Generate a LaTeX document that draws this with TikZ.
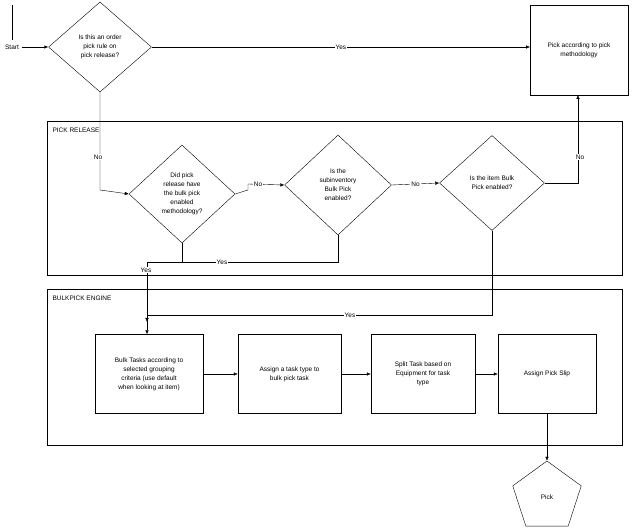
\documentclass[tikz,border=0pt]{standalone}
\usepackage{fontspec}
\setmainfont{Liberation Sans}
\usetikzlibrary{shapes.geometric,arrows.meta}
\begin{document}
\begin{tikzpicture}[x=1pt,y=-1pt,
  every node/.style={font=\fontsize{6.5}{9}\selectfont},
  dia/.style={draw,diamond,inner sep=0pt,align=center},
  box/.style={draw,rectangle,align=center,inner sep=2pt},
  cont/.style={draw},
  arr/.style={-{Latex[length=4pt,width=3.5pt]}},
  lbl/.style={fill=white,inner sep=1pt}]
\useasboundingbox (0,0) rectangle (633,532);
\draw[cont] (47,121) rectangle (622,275);
\node[anchor=west] (prl) at (49,130) {PICK RELEASE};
\draw[cont] (47,289) rectangle (622,445);
\node[anchor=west] (bpe) at (49,298) {BULKPICK ENGINE};

\coordinate (st) at (12,5);
\node (start) at (12,47) {Start};
\draw (st) -- (12,40);
\node[dia,minimum width=103pt,minimum height=90pt] (d1) at (100,47) {Is this an order\\pick rule on\\pick release?};
\node[box,minimum width=98pt,minimum height=90pt,anchor=north west] (pbox) at (530,5) {};
\node[align=center] (ptxt) at (579,50) {Pick according to pick\\methodology};
\node[dia,minimum width=106pt,minimum height=98pt] (d2) at (182,194) {Did pick\\release have\\the bulk pick\\enabled\\methodology?};
\node[dia,minimum width=107pt,minimum height=100pt] (d3) at (338,185) {Is the\\subinventory\\Bulk Pick\\enabled?};
\node[dia,minimum width=105pt,minimum height=95pt] (d4) at (492,183) {Is the item Bulk\\Pick enabled?};

\node[box,minimum width=108pt,minimum height=79pt] (b1) at (149,374) {Bulk Tasks according to\\selected grouping\\criteria (use default\\when looking at item)};
\node[box,minimum width=103pt,minimum height=79pt] (b2) at (289.5,374) {Assign a task type to\\bulk pick task};
\node[box,minimum width=104pt,minimum height=79pt] (b3) at (423,374) {Split Task based on\\Equipment for task\\type};
\node[box,minimum width=98pt,minimum height=79pt] (b4) at (547,374) {Assign Pick Slip};
\node[draw,regular polygon,regular polygon sides=5,minimum size=72pt,inner sep=0pt] (pick) at (547,497) {Pick};

\draw[arr] (start.east) -- (d1.west);
\draw[arr] (d1.east) -- node[lbl]{Yes} (pbox.west |- d1.east);
\draw[arr] (d1.south) -- (100,190) -- (d2.west);
\node[lbl] (no1) at (98,157) {No};
\draw[arr] (d2.east) -- (248,190) -- (248,184) -- (d3.west);
\node[lbl] (no2) at (258,184) {No};
\draw[arr] (d3.east) -- node[lbl]{No} (d4.west);
\draw[arr] (d4.east) -- (578,183) -- (578,95);
\node[lbl] (no4) at (580,157) {No};
\draw (d3.south) -- (338,262) -- (147,262);
\node[lbl] (y3) at (222,262) {Yes};
\draw (d2.south) -- (182,262);
\draw[arr] (d4.south) -- (492,315) -- (147,315) -- (b1.north -| 147,0);
\draw[arr] (147,262) -- (147,322);
\node[lbl] (y2) at (146,270) {Yes};
\node[lbl] (y4) at (350,315) {Yes};
\draw[arr] (b1) -- (b2);
\draw[arr] (b2) -- (b3);
\draw[arr] (b3) -- (b4);
\draw[arr] (b4) -- (pick.corner 1);
\end{tikzpicture}
\end{document}
